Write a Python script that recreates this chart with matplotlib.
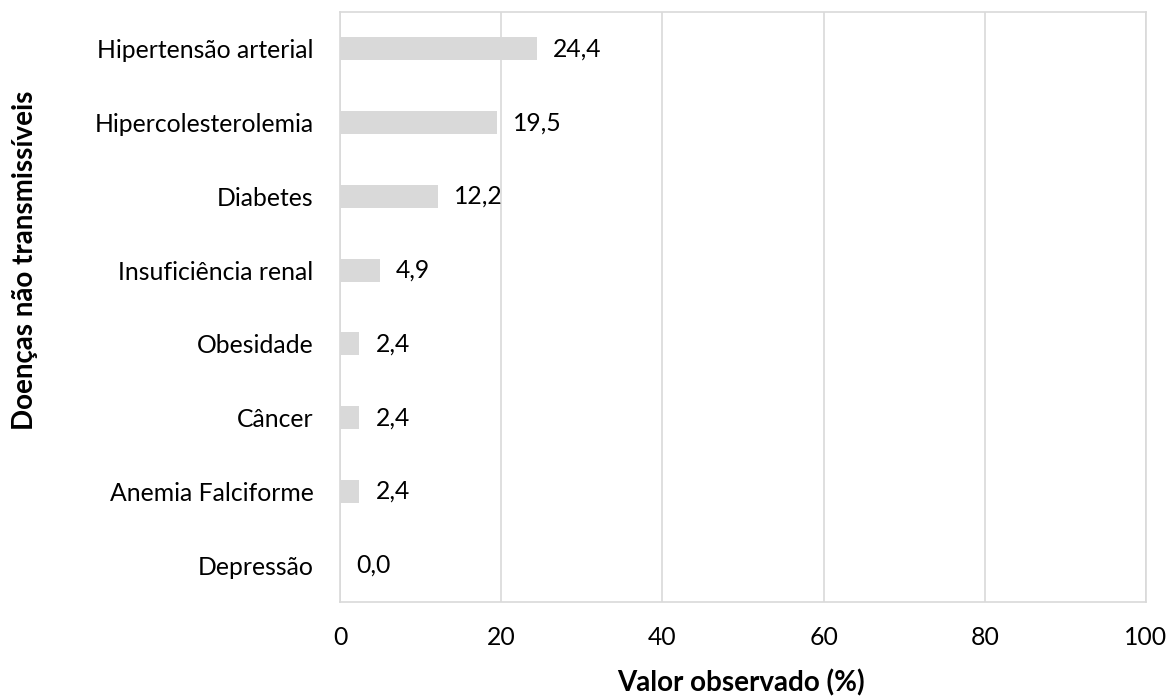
import matplotlib.pyplot as plt

# dados
doencas = ['Hipertensão arterial', 'Hipercolesterolemia', 'Diabetes', 'Insuficiência renal',
           'Obesidade', 'Câncer', 'Anemia Falciforme', 'Depressão']
valores = [24.4, 19.5, 12.2, 4.9, 2.4, 2.4, 2.4, 0.0]
xticks = [0, 20, 40, 60, 80, 100]

plt.rcParams['font.family'] = ['Lato', 'DejaVu Sans']

fig = plt.figure(figsize=(11.69, 6.97), dpi=100)
ax = fig.add_axes([0.2909, 0.1363, 0.6894, 0.8465])

pos = list(range(len(doencas)))
ax.barh(pos, valores, height=0.31, color='#D9D9D9', zorder=2)
ax.set_ylim(len(doencas) - 0.5, -0.5)
ax.set_xlim(0, 100)
ax.set_xticks(xticks)
ax.set_yticks(pos)
ax.set_yticklabels(doencas)

# rótulos dos valores
for p, v in zip(pos, valores):
    ax.annotate(f'{v:.1f}'.replace('.', ','), (v, p), xytext=(11.5, 0),
                textcoords='offset points', va='center', ha='left', fontsize=17.8)

ax.grid(axis='x', color='#D9D9D9', linewidth=1.2, zorder=0)
for s in ax.spines.values():
    s.set_color('#D9D9D9')
    s.set_linewidth(1.2)
ax.tick_params(length=0, labelsize=17.8)
ax.tick_params(axis='x', pad=17)
ax.tick_params(axis='y', pad=19)

fig.text(0.634, 0.020, 'Valor observado (%)', fontsize=20, fontweight='bold',
         ha='center', va='center')
fig.text(0.021, 0.627, 'Doenças não transmissíveis', rotation=90, fontsize=20,
         fontweight='bold', ha='center', va='center')

fig.savefig('out.png', dpi=100)
